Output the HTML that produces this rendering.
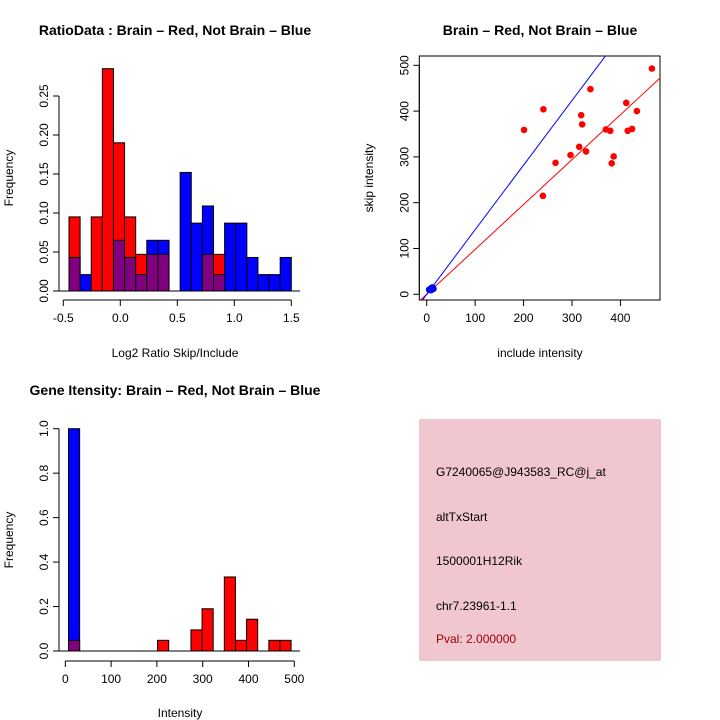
<!DOCTYPE html>
<html><head><meta charset="utf-8"><style>
body{margin:0;background:#fff;}
svg{display:block;font-family:"Liberation Sans",sans-serif;}
</style></head><body>
<svg id="c" width="720" height="720">
<text x="175" y="35" text-anchor="middle" font-size="14" font-weight="bold">RatioData : Brain – Red, Not Brain – Blue</text>
<text x="540" y="35" text-anchor="middle" font-size="14" font-weight="bold">Brain – Red, Not Brain – Blue</text>
<text x="175" y="395" text-anchor="middle" font-size="14" font-weight="bold">Gene Itensity: Brain – Red, Not Brain – Blue</text>
<text x="175" y="357" text-anchor="middle" font-size="12">Log2 Ratio Skip/Include</text>
<text transform="translate(13,178) rotate(-90)" text-anchor="middle" font-size="12">Frequency</text>
<text x="540" y="357" text-anchor="middle" font-size="12">include intensity</text>
<text transform="translate(373,178) rotate(-90)" text-anchor="middle" font-size="12">skip intensity</text>
<text x="180" y="717" text-anchor="middle" font-size="12">Intensity</text>
<text transform="translate(13,540) rotate(-90)" text-anchor="middle" font-size="12">Frequency</text>
<g>
<rect x="419" y="419" width="242" height="242" fill="#f0c6d0"/>
<text x="436" y="476" font-size="12">G7240065@J943583_RC@j_at</text>
<text x="436" y="521" font-size="12">altTxStart</text>
<text x="436" y="565" font-size="12">1500001H12Rik</text>
<text x="436" y="610" font-size="12">chr7.23961-1.1</text>
<text x="436" y="643" font-size="12" fill="#a00000">Pval: 2.000000</text>
</g>
</svg>
<script>
const ratioRed=[0.095,0,0.095,0.285,0.19,0.095,0.047,0.047,0.047,0,0,0,0.047,0.047,0,0,0,0,0,0];
const ratioBlue=[0.043,0.021,0,0,0.065,0.043,0.021,0.065,0.065,0,0.152,0.087,0.109,0.021,0.087,0.087,0.043,0.021,0.021,0.043];
const ratioXTicks=[-0.5,0,0.5,1,1.5];
const ratioXLabels=["-0.5","0.0","0.5","1.0","1.5"];
const ratioYTicks=[0,0.05,0.1,0.15,0.2,0.25];
const ratioYLabels=["0.00","0.05","0.10","0.15","0.20","0.25"];
const incRed=[465,241,338,201,319,321,412,434,266,297,315,329,240,370,379,415,424,382,386];
const skipRed=[493,404,448,359,391,371,418,400,287,304,322,312,215,360,357,357,361,286,301];
const incBlue=[5,8,10,12,14,9];
const skipBlue=[10,12,14,15,12,9];
const scXTicks=[0,100,200,300,400];
const scYTicks=[0,100,200,300,400,500];
const redSlope=[0.98];
const blueSlope=[1.41];
const intRed=[0.048,0,0,0,0,0,0,0,0.048,0,0,0.095,0.19,0,0.333,0.048,0.143,0,0.048,0.048];
const intBlue=[1.0,0,0,0,0,0,0,0,0,0,0,0,0,0,0,0,0,0,0,0];
const intXTicks=[0,100,200,300,400,500];
const intYTicks=[0,0.2,0.4,0.6,0.8,1.0];
const intYLabels=["0.0","0.2","0.4","0.6","0.8","1.0"];

const svg=document.getElementById('c');
const NS='http://www.w3.org/2000/svg';
function mk(t,a){const e=document.createElementNS(NS,t);for(const k in a)e.setAttribute(k,a[k]);svg.appendChild(e);return e;}

function hist(red,blue,x0,bw,xs,ys,base,prefix){
  for(let i=0;i<red.length;i++){
    const r=red[i],b=blue[i];
    const xl=xs(x0+i*bw),xr=xs(x0+(i+1)*bw);
    const hi=Math.max(r,b),lo=Math.min(r,b);
    if(hi<=0)continue;
    const top=mk('rect',{x:xl,y:ys(hi),width:xr-xl,height:base-ys(hi),fill:r>=b?'#ff0000':'#0000ff',stroke:'#000','stroke-width':1});
    
    
    if(lo>0){
      const o=mk('rect',{x:xl,y:ys(lo),width:xr-xl,height:base-ys(lo),fill:'#800080',stroke:'#000','stroke-width':1});
      
      
    }
  }
}
function axes(xt,xl,xs,xAxisY,yt,yl,ys,yAxisX,prefix){
  const ax=mk('line',{x1:xs(xt[0]),x2:xs(xt[xt.length-1]),y1:xAxisY,y2:xAxisY,stroke:'#000'});
  
  
  xt.forEach((v,i)=>{mk('line',{x1:xs(v),x2:xs(v),y1:xAxisY,y2:xAxisY+6,stroke:'#000'});
    const t=mk('text',{x:xs(v),y:xAxisY+22,'text-anchor':'middle','font-size':12});t.textContent=xl[i];
    
    });
  const ay=mk('line',{x1:yAxisX,x2:yAxisX,y1:ys(yt[0]),y2:ys(yt[yt.length-1]),stroke:'#000'});
  
  
  yt.forEach((v,i)=>{mk('line',{x1:yAxisX-6,x2:yAxisX,y1:ys(v),y2:ys(v),stroke:'#000'});
    const t=mk('text',{transform:`translate(${yAxisX-11},${ys(v)}) rotate(-90)`,'text-anchor':'middle','font-size':12});t.textContent=yl[i];
    
    });
}

// Ratio histogram
const rxs=v=>63.3+(v+0.5)*114,rys=v=>291-v*780;
hist(ratioRed,ratioBlue,-0.45,1.95/20,rxs,rys,291,'ratio');
mk('line',{x1:59,x2:300,y1:291,y2:291,stroke:'#000'});
axes(ratioXTicks,ratioXLabels,rxs,300,ratioYTicks,ratioYLabels,rys,59,'ratio');

// Scatter
const sxs=v=>426.7+v*0.4843,sys=v=>294.3-v*0.458;
const box=mk('rect',{x:419.3,y:56,width:240.7,height:244,fill:'none',stroke:'#000'});


mk('clipPath',{id:'sc'}).appendChild(Object.assign(document.createElementNS(NS,'rect'),{}));
svg.lastChild.firstChild.setAttribute('x',419.3);svg.lastChild.firstChild.setAttribute('y',56);
svg.lastChild.firstChild.setAttribute('width',240.7);svg.lastChild.firstChild.setAttribute('height',244);
[[redSlope[0],'#ff0000','red-fit-line'],[blueSlope[0],'#0000ff','blue-fit-line']].forEach(([s,c,n])=>{
  const l=mk('line',{x1:sxs(-50),y1:sys(-50*s),x2:sxs(600),y2:sys(600*s),stroke:c,'stroke-width':1,'clip-path':'url(#sc)'});
  
  
});
incRed.forEach((v,i)=>{const p=mk('circle',{cx:sxs(v),cy:sys(skipRed[i]),r:3.3,fill:'#ff0000'});
  
  });
incBlue.forEach((v,i)=>{const p=mk('circle',{cx:sxs(v),cy:sys(skipBlue[i]),r:3.3,fill:'#0000ff'});
  
  });
axes(scXTicks,scXTicks.map(String),sxs,300,scYTicks,scYTicks.map(String),sys,419.3,'scatter');

// Intensity histogram
const ixs=v=>65.3+v*0.458,iys=v=>651-v*222.3;
hist(intRed,intBlue,7,24.3,ixs,iys,651,'intensity');
mk('line',{x1:59,x2:300,y1:651,y2:651,stroke:'#000'});
axes(intXTicks,intXTicks.map(String),ixs,661,intYTicks,intYLabels,iys,59,'intensity');
</script>
</body></html>
